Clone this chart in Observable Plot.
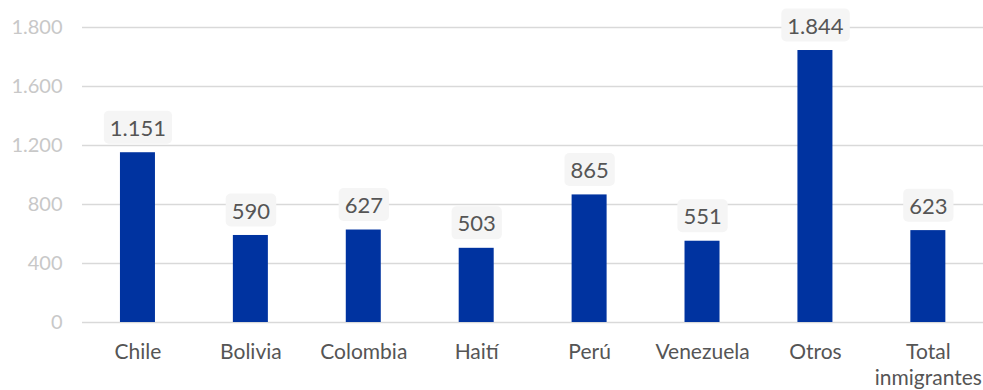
<!DOCTYPE html>
<html>
<head>
<meta charset="utf-8">
<script src="https://cdn.jsdelivr.net/npm/d3@7"></script>
<script src="https://cdn.jsdelivr.net/npm/@observablehq/plot@0.6"></script>
<style>
  html, body { margin: 0; padding: 0; background: #fff; }
  #chart svg { display: block; }
</style>
</head>
<body>
<div id="chart"></div>
<script>
const categories = ["Chile", "Bolivia", "Colombia", "Haití", "Perú", "Venezuela", "Otros", "Total inmigrantes"];
const values = [1151, 590, 627, 503, 865, 551, 1844, 623];
const valueLabels = ["1.151", "590", "627", "503", "865", "551", "1.844", "623"];
const yTicks = [0, 400, 800, 1200, 1600, 2000];
const yTickLabels = ["0", "400", "800", "1.200", "1.600", "1.800"];

const data = categories.map((c, i) => ({cat: c, value: values[i], label: valueLabels[i]}));

const chart = Plot.plot({
  width: 983,
  height: 390,
  marginLeft: 82,
  marginRight: 0,
  marginTop: 27,
  marginBottom: 68,
  style: {fontFamily: "Lato, sans-serif", background: "#fff"},
  x: {domain: categories, range: [81, 984.3], round: false, paddingInner: 0.69, paddingOuter: 0.345, label: null},
  y: {domain: [0, 2000], label: null},
  marks: [
    Plot.gridY(yTicks, {stroke: "#d9d9d9", strokeOpacity: 1, strokeWidth: 1.3}),
    Plot.axisY(yTicks, {
      tickSize: 0, tickPadding: 20, fontSize: 20, fill: "#c8c8c8",
      tickFormat: d => yTickLabels[yTicks.indexOf(d)], label: null
    }),
    Plot.axisX({
      tickSize: 0, tickPadding: 17, fontSize: 21, fill: "#555", lineHeight: 1.28,
      tickFormat: d => d === "Total inmigrantes" ? "Total\ninmigrantes" : d, label: null
    }),
    Plot.barY(data, {x: "cat", y: "value", fill: "#0033a0"}),
    Plot.text(data, {
      x: "cat", y: "value", text: "label", dy: -24, fontSize: 22, fill: "#555",
      className: "vlabel"
    })
  ]
});
document.getElementById("chart").appendChild(chart);

// rounded light-gray boxes behind value labels
chart.querySelectorAll(".vlabel text").forEach(t => {
  const b = t.getBBox();
  const r = document.createElementNS("http://www.w3.org/2000/svg", "rect");
  const padX = 6, padY = 4;
  r.setAttribute("x", b.x - padX);
  r.setAttribute("y", b.y - padY + 1);
  r.setAttribute("width", b.width + 2 * padX);
  r.setAttribute("height", b.height + 2 * padY - 2);
  r.setAttribute("rx", 5);
  r.setAttribute("fill", "#f5f5f5");
  const tr = t.getAttribute("transform");
  if (tr) r.setAttribute("transform", tr);
  t.parentNode.insertBefore(r, t);
});
</script>
</body>
</html>
